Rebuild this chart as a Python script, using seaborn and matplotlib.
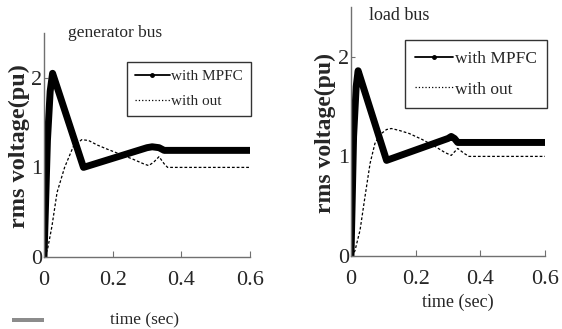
import matplotlib
matplotlib.use("Agg")
import matplotlib.pyplot as plt
from matplotlib.lines import Line2D
from matplotlib.patches import Rectangle
import seaborn as sns
import pandas as pd

# ---- data ----
gen_mpfc_t = [0, 0.01, 0.018, 0.025, 0.115, 0.30, 0.315, 0.335, 0.35, 0.6]
gen_mpfc_v = [0, 1.3, 1.85, 2.05, 1.0, 1.22, 1.23, 1.22, 1.19, 1.19]
gen_wo_t = [0, 0.01, 0.023, 0.038, 0.06, 0.085, 0.11, 0.13, 0.155, 0.18, 0.22,
            0.26, 0.29, 0.305, 0.32, 0.335, 0.35, 0.36, 0.6]
gen_wo_v = [0, 0.08, 0.34, 0.72, 1.0, 1.23, 1.31, 1.30, 1.25, 1.21, 1.15,
            1.09, 1.04, 1.02, 1.06, 1.12, 1.04, 1.0, 1.0]

load_mpfc_t = [0, 0.008, 0.016, 0.022, 0.11, 0.30, 0.31, 0.32, 0.33, 0.6]
load_mpfc_v = [0, 1.2, 1.7, 1.86, 0.96, 1.18, 1.2, 1.18, 1.14, 1.14]
load_wo_t = [0, 0.012, 0.028, 0.043, 0.059, 0.074, 0.09, 0.11, 0.125, 0.15, 0.18,
             0.22, 0.26, 0.29, 0.31, 0.33, 0.35, 0.365, 0.6]
load_wo_v = [0, 0.05, 0.26, 0.59, 0.93, 1.13, 1.22, 1.27, 1.28, 1.26, 1.23,
             1.17, 1.1, 1.04, 1.01, 1.08, 1.03, 1.0, 1.0]

x_ticks = [0, 0.2, 0.4, 0.6]
x_ticklabels = ["0", "0.2", "0.4", "0.6"]
y_ticks = [0, 1, 2]
y_ticklabels = ["0", "1", "2"]
legend_labels = ["with MPFC", "with out"]
titles = ["generator bus", "load bus"]

sns.set_theme(style="white")
plt.rcParams['font.family'] = ['Liberation Serif', 'DejaVu Serif']

W, H = 562, 329
fig = plt.figure(figsize=(W / 100, H / 100), dpi=100)
fig.patch.set_facecolor("white")


def ax_from_px(x0, x1, ytop, ybot):
    return fig.add_axes([x0 / W, (H - ybot) / H, (x1 - x0) / W, (ybot - ytop) / H])


axL = ax_from_px(44, 250, 33, 257)
axR = ax_from_px(351, 545, 7, 256)

panels = [
    (axL, gen_mpfc_t, gen_mpfc_v, gen_wo_t, gen_wo_v, titles[0]),
    (axR, load_mpfc_t, load_mpfc_v, load_wo_t, load_wo_v, titles[1]),
]

for i, (ax, mt, mv, wt, wv, title) in enumerate(panels):
    df_m = pd.DataFrame({"t": mt, "v": mv})
    df_w = pd.DataFrame({"t": wt, "v": wv})
    sns.lineplot(data=df_w, x="t", y="v", ax=ax, color="black", lw=0.9,
                 linestyle=(0, (2.2, 1.6)), estimator=None, sort=False)
    sns.lineplot(data=df_m, x="t", y="v", ax=ax, color="black", lw=5,
                 estimator=None, sort=False, solid_joinstyle="round",
                 solid_capstyle="round")
    ax.set_xlim(0, 0.6)
    ax.set_ylim(0, 2.5)
    ax.set_xticks(x_ticks)
    ax.set_xticklabels(x_ticklabels)
    ax.set_yticks(y_ticks)
    ax.set_yticklabels(y_ticklabels)
    ax.set_xlabel("")
    ax.set_ylabel("")
    for s in ["top", "right"]:
        ax.spines[s].set_visible(False)
    for s in ["left", "bottom"]:
        ax.spines[s].set_color("#707070")
        ax.spines[s].set_linewidth(1.0)
    ax.tick_params(axis="x", direction="in", length=4, width=0.8, color="#707070",
                   labelsize=16, pad=10, bottom=True)
    ax.tick_params(axis="y", direction="in", length=3, width=0.8, color="#707070",
                   labelsize=16, pad=1, left=True)
    ax.set_facecolor("white")
    ax.patch.set_alpha(0)

    handles = [
        Line2D([], [], color="black", lw=1.3, marker=".", markersize=5),
        Line2D([], [], color="black", lw=0.9, linestyle=":"),
    ]
    if i == 0:
        bbox = ((132 - 44) / 206, (257 - 117) / 224, (246 - 132) / 206, (117 - 61) / 224)
        fs, ls, bp, hl = 11, 0.75, 0.5, 2.3
    else:
        bbox = ((406 - 351) / 194, (256 - 110) / 249, (546 - 406) / 194, (110 - 38) / 249)
        fs, ls, bp, hl = 12.5, 0.85, 0.6, 2.2
    leg = ax.legend(handles, legend_labels, loc="center", bbox_to_anchor=bbox,
                    frameon=True, fancybox=False, fontsize=fs, handlelength=hl,
                    handletextpad=0.1, borderpad=bp, labelspacing=ls,
                    borderaxespad=0)
    leg.get_frame().set_edgecolor("black")
    leg.get_frame().set_linewidth(1.0)

# titles inside panels
fig.text(68 / W, 1 - 33 / H, titles[0], fontsize=12.5, ha="left", va="center")
fig.text(369 / W, 1 - 15 / H, titles[1], fontsize=13, ha="left", va="center")

# axis labels
fig.text(145 / W, 1 - 320 / H, "time (sec)", fontsize=12.5, ha="center", va="center")
fig.text(458 / W, 1 - 302 / H, "time (sec)", fontsize=13, ha="center", va="center")
fig.text(19 / W, 1 - 146 / H, "rms voltage(pu)", fontsize=17.5, fontweight="bold",
         rotation=90, ha="center", va="center")
fig.text(325 / W, 1 - 133 / H, "rms voltage(pu)", fontsize=17, fontweight="bold",
         rotation=90, ha="center", va="center")

# small grey bar at bottom-left
fig.add_artist(Rectangle((12 / W, (H - 322) / H), 32 / W, 4 / H,
                         transform=fig.transFigure, color="#8c8c8c", lw=0))

fig.savefig("out.png", dpi=100, facecolor="white")
